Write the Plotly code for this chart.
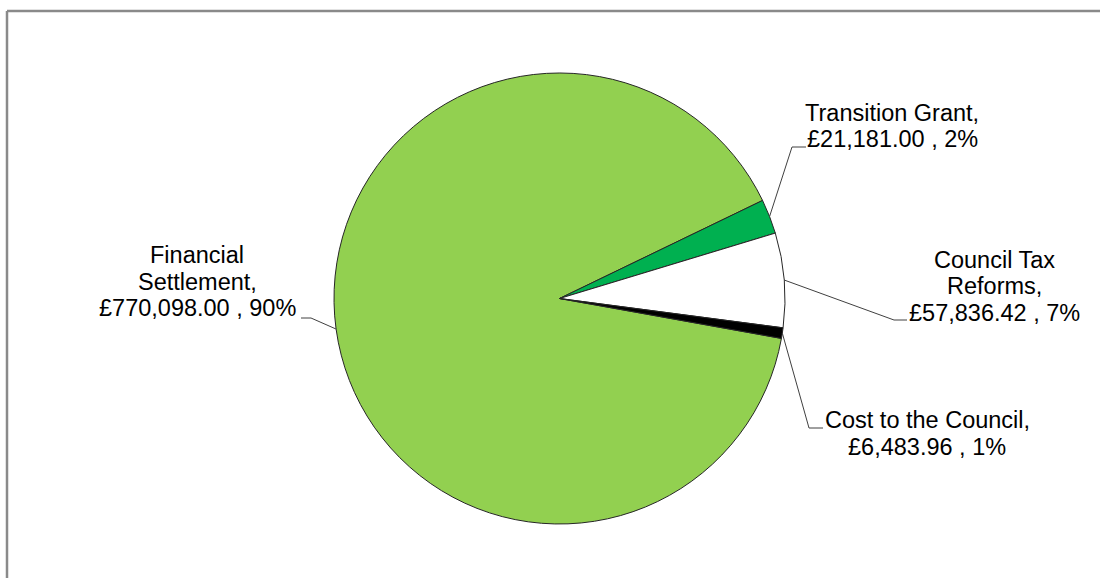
import math
import plotly.graph_objects as go

# ---- data ----
labels = ["Financial Settlement", "Transition Grant", "Council Tax Reforms", "Cost to the Council"]
values = [770098.00, 21181.00, 57836.42, 6483.96]
colors = ["#92D050", "#00B050", "#FFFFFF", "#000000"]
# label text split into lines (name part)
name_lines = [["Financial", "Settlement,"], ["Transition Grant,"], ["Council Tax", "Reforms,"], ["Cost to the Council,"]]

# ---- layout constants (pixels) ----
W, H = 1100, 578
CX, CY, R = 559.5, 298.5, 225.5
ROTATION = 100.2  # degrees clockwise from 12 o'clock for first slice
FONT = 23.5
LINE_SP = 26.5
# label centre x, first baseline y, elbow point, end point of leader
label_pos = [
    dict(x=197, y0=263.5, elbow=(311, 318), end=(301, 318)),
    dict(x=892, y0=121, elbow=(792, 147), end=(806, 147)),
    dict(x=994, y0=268, elbow=(894, 320), end=(907, 320)),
    dict(x=927, y0=428.5, elbow=(809, 428), end=(823, 428)),
]

def px(x):
    return x / W

def py(y):
    return 1 - y / H

total = sum(values)
fig = go.Figure()
fig.add_trace(go.Pie(
    labels=labels, values=values, sort=False, direction="clockwise",
    rotation=ROTATION, textinfo="none", hoverinfo="label+value+percent",
    marker=dict(colors=colors, line=dict(color="#262626", width=1)),
    domain=dict(x=[px(CX - R), px(CX + R)], y=[py(CY + R), py(CY - R)]),
    showlegend=False,
))

annotations = []
shapes = []
cum = 0.0
for i, v in enumerate(values):
    frac = v / total
    mid = ROTATION + 360 * (cum + frac / 2)
    cum += frac
    a = math.radians(mid)
    sx, sy = CX + R * math.sin(a), CY - R * math.cos(a)
    pos = label_pos[i]
    ex, ey = pos["elbow"]
    tx, ty = pos["end"]
    shapes.append(dict(type="path", xref="paper", yref="paper",
                       path=f"M {px(sx)},{py(sy)} L {px(ex)},{py(ey)} L {px(tx)},{py(ty)}",
                       line=dict(color="#404040", width=1)))
    lines = name_lines[i] + [f"£{v:,.2f} , {round(frac * 100)}%"]
    for j, t in enumerate(lines):
        base = pos["y0"] + j * LINE_SP
        annotations.append(dict(text=t, x=px(pos["x"]), y=py(base - 0.3465 * FONT),
                                xref="paper", yref="paper", xanchor="center", yanchor="middle",
                                showarrow=False,
                                font=dict(family="Liberation Sans, Arial, sans-serif", size=FONT, color="#000000")))

# outer chart frame (only top and left visible)
shapes.append(dict(type="line", xref="paper", yref="paper", x0=px(7), x1=1.02, y0=py(11), y1=py(11),
                   line=dict(color="#8a8a8a", width=2.5)))
shapes.append(dict(type="line", xref="paper", yref="paper", x0=px(7), x1=px(7), y0=py(11), y1=-0.02,
                   line=dict(color="#8a8a8a", width=2.5)))

fig.update_layout(width=W, height=H, margin=dict(l=0, r=0, t=0, b=0),
                  paper_bgcolor="white", plot_bgcolor="white",
                  annotations=annotations, shapes=shapes)
fig.write_html("out.html", config={"displayModeBar": False},
               post_script="document.body.style.margin='0';document.body.style.overflow='hidden';")
